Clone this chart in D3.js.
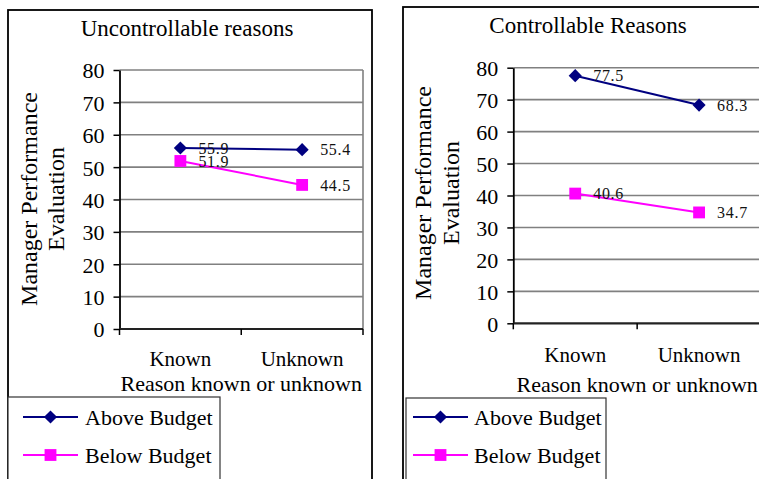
<!DOCTYPE html>
<html>
<head>
<meta charset="utf-8">
<script src="https://cdn.jsdelivr.net/npm/d3@7"></script>
<style>
body { margin: 0; background: #fff; }
svg { display: block; font-family: "Liberation Serif", "Times New Roman", serif; }
</style>
</head>
<body>
<svg id="chart" width="759" height="479"></svg>
<script>
// data
const categories = ["Known", "Unknown"];
const yTicks = [0, 10, 20, 30, 40, 50, 60, 70, 80];
const seriesNames = ["Above Budget", "Below Budget"];
const uncontrollableAbove = [55.9, 55.4];
const uncontrollableBelow = [51.9, 44.5];
const controllableAbove = [77.5, 68.3];
const controllableBelow = [40.6, 34.7];
const panelTitles = ["Uncontrollable reasons", "Controllable Reasons"];
const yAxisTitle = ["Manager Performance", "Evaluation"];
const xAxisTitle = "Reason known or unknown";

const colors = ["#000080", "#ff00ff"];
const svg = d3.select("#chart");

// panel layouts (pixel positions)
const panels = [
    {
        box: [8, 10, 372, 520], left: 119.5, right: 363, top: 70, bottom: 329,
        titleX: 187, titleY: 36, yLabX: [36.5, 63.5], yLabY: 199,
        catY: 366, axisY: 391,
        legend: { x0: 8, x1: 220, y0: 397, y1: 520, rows: [417, 455], l0: 23, l1: 78, tx: 85 }
    },
    {
        box: [403, 7, 820, 520], left: 513.3, right: 761, top: 67.7, bottom: 323.3,
        titleX: 588, titleY: 33, yLabX: [431, 459], yLabY: 193,
        catY: 362, axisY: 392,
        legend: { x0: 406, x1: 606, y0: 398, y1: 520, rows: [417, 455], l0: 413, l1: 468, tx: 474 }
    }
];

const markers = [
    d3.symbol().type(d3.symbolDiamond2).size(110),
    d3.symbol().type(d3.symbolSquare).size(140)
];

function drawPanel(p, title, series) {
    const g = svg.append("g");

    // outer frame
    g.append("rect")
        .attr("x", p.box[0]).attr("y", p.box[1])
        .attr("width", p.box[2] - p.box[0]).attr("height", p.box[3] - p.box[1])
        .attr("fill", "#fff").attr("stroke", "#000").attr("stroke-width", 1.8);

    const x = d3.scaleBand().domain(categories).range([p.left, p.right]);
    const y = d3.scaleLinear().domain([0, 80]).range([p.bottom, p.top]);

    // gridlines
    g.selectAll("line.grid")
        .data(yTicks.slice(1))
        .join("line")
        .attr("class", "grid")
        .attr("x1", p.left).attr("x2", p.right)
        .attr("y1", d => y(d)).attr("y2", d => y(d))
        .attr("stroke", "#808080").attr("stroke-width", 1.6);

    // right edge of plot area
    g.append("line")
        .attr("x1", p.right).attr("x2", p.right)
        .attr("y1", y(80)).attr("y2", y(0))
        .attr("stroke", "#808080").attr("stroke-width", 1.6);

    // y axis
    const yAxis = d3.axisLeft(y).tickValues(yTicks).tickSize(6).tickSizeOuter(0).tickPadding(9);
    const ya = g.append("g")
        .attr("transform", `translate(${p.left},0)`)
        .call(yAxis);
    ya.attr("font-family", null).attr("font-size", 22);
    ya.select(".domain").attr("stroke", "#000").attr("stroke-width", 1.8);
    ya.selectAll(".tick line").attr("stroke", "#000").attr("stroke-width", 1.5);
    ya.selectAll(".tick text").attr("fill", "#000").attr("dy", "0.36em");

    // x axis line with ticks at category boundaries
    g.append("line")
        .attr("x1", p.left).attr("x2", p.right)
        .attr("y1", y(0)).attr("y2", y(0))
        .attr("stroke", "#222").attr("stroke-width", 2.2);
    const bounds = categories.map(c => x(c)).concat([x(categories[categories.length - 1]) + x.bandwidth()]);
    g.selectAll("line.xtick")
        .data(bounds)
        .join("line")
        .attr("class", "xtick")
        .attr("x1", d => d).attr("x2", d => d)
        .attr("y1", y(0)).attr("y2", y(0) + 6)
        .attr("stroke", "#000").attr("stroke-width", 1.5);

    g.selectAll("text.cat")
        .data(categories)
        .join("text")
        .attr("class", "cat")
        .attr("x", d => x(d) + x.bandwidth() / 2)
        .attr("y", p.catY)
        .attr("text-anchor", "middle")
        .attr("font-size", 21)
        .text(d => d);

    g.append("text")
        .attr("x", (p.left + p.right) / 2)
        .attr("y", p.axisY)
        .attr("text-anchor", "middle")
        .attr("font-size", 22)
        .text(xAxisTitle);

    // title
    g.append("text")
        .attr("x", p.titleX).attr("y", p.titleY)
        .attr("text-anchor", "middle")
        .attr("font-size", 23)
        .text(title);

    // rotated y title
    yAxisTitle.forEach((t, i) => {
        g.append("text")
            .attr("transform", `translate(${p.yLabX[i]},${p.yLabY}) rotate(-90)`)
            .attr("text-anchor", "middle")
            .attr("font-size", 24)
            .text(t);
    });

    // series
    const line = d3.line()
        .x((d, i) => x(categories[i]) + x.bandwidth() / 2)
        .y(d => y(d));

    series.forEach((vals, s) => {
        g.append("path")
            .datum(vals)
            .attr("d", line)
            .attr("fill", "none")
            .attr("stroke", colors[s])
            .attr("stroke-width", 2);

        g.selectAll("path.m" + s)
            .data(vals)
            .join("path")
            .attr("class", "m" + s)
            .attr("transform", (d, i) => `translate(${x(categories[i]) + x.bandwidth() / 2},${y(d)})`)
            .attr("d", markers[s])
            .attr("fill", colors[s]);

        g.selectAll("text.v" + s)
            .data(vals)
            .join("text")
            .attr("class", "v" + s)
            .attr("x", (d, i) => x(categories[i]) + x.bandwidth() / 2 + 18)
            .attr("y", d => y(d))
            .attr("dy", "0.36em")
            .attr("font-size", 16)
            .attr("letter-spacing", 0.7)
            .attr("fill", "#111")
            .text(d => d.toFixed(1));
    });

    // legend
    const L = p.legend;
    g.append("rect")
        .attr("x", L.x0).attr("y", L.y0)
        .attr("width", L.x1 - L.x0).attr("height", L.y1 - L.y0)
        .attr("fill", "#fff").attr("stroke", "#333").attr("stroke-width", 1.2);

    seriesNames.forEach((name, s) => {
        const ry = L.rows[s];
        g.append("line")
            .attr("x1", L.l0).attr("x2", L.l1)
            .attr("y1", ry).attr("y2", ry)
            .attr("stroke", colors[s]).attr("stroke-width", 2);
        g.append("path")
            .attr("transform", `translate(${(L.l0 + L.l1) / 2},${ry})`)
            .attr("d", markers[s])
            .attr("fill", colors[s]);
        g.append("text")
            .attr("x", L.tx).attr("y", ry)
            .attr("dy", "0.36em")
            .attr("font-size", 22)
            .text(name);
    });
}

drawPanel(panels[0], panelTitles[0], [uncontrollableAbove, uncontrollableBelow]);
drawPanel(panels[1], panelTitles[1], [controllableAbove, controllableBelow]);
</script>
</body>
</html>
